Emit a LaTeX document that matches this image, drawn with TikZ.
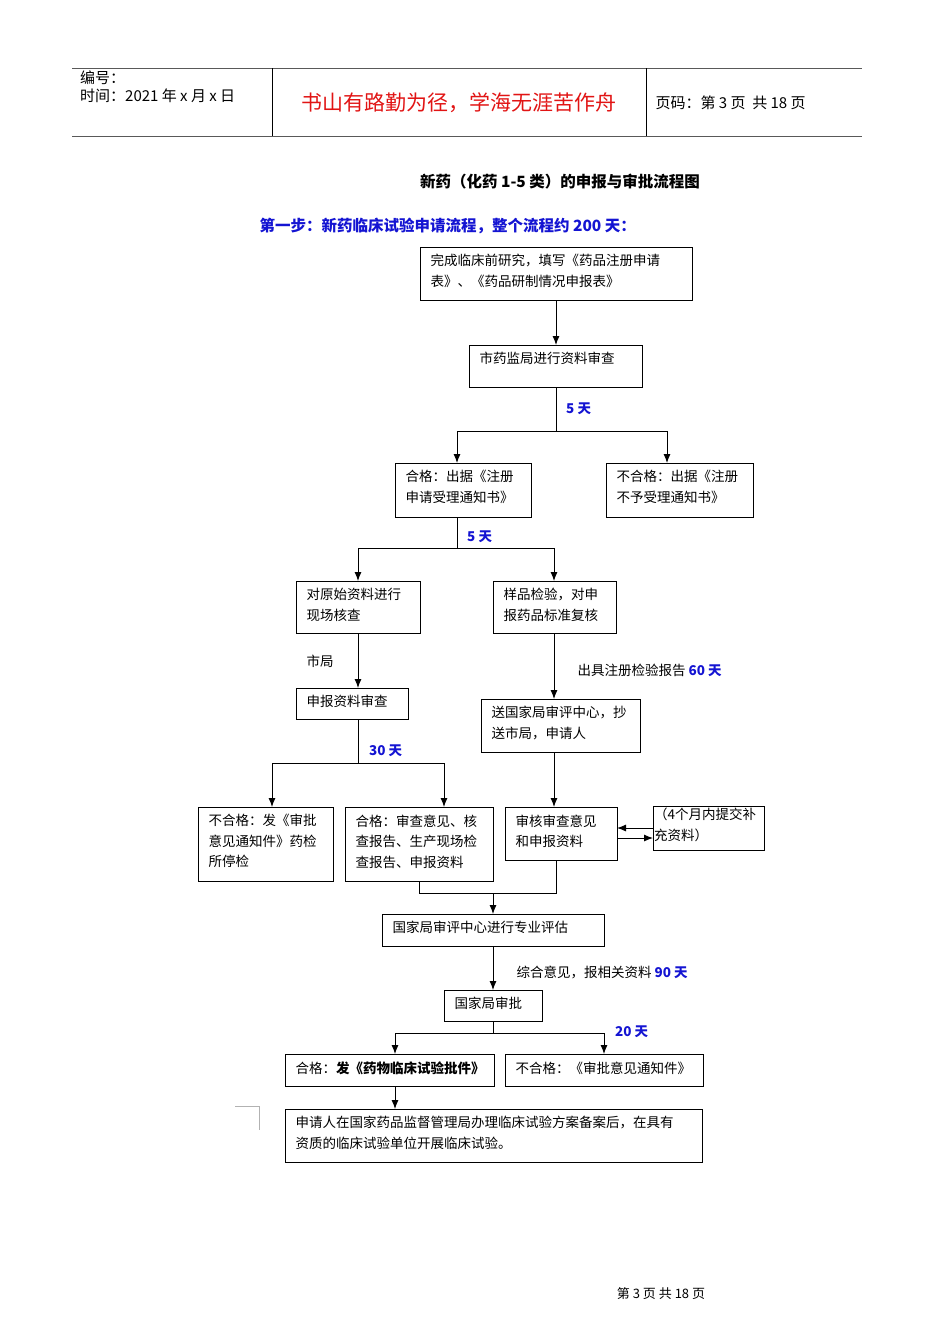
\documentclass[tikz,border=0pt]{standalone}
\usepackage{fontspec}
\usetikzlibrary{arrows.meta}
\setmainfont{Noto Sans CJK SC}
\definecolor{dblue}{RGB}{20,20,210}
\definecolor{hred}{RGB}{225,20,20}
\begin{document}
\begin{tikzpicture}[x=1pt,y=-1pt,
  bx/.style={draw,line width=0.9pt,inner sep=0pt},
  t/.style={font=\fontsize{13.5}{20.5}\selectfont,align=left,anchor=north west},
  lab/.style={font=\fontsize{13.5}{16}\selectfont\bfseries,text=dblue,anchor=west,inner sep=0pt},
  ar/.style={line width=0.9pt,-{Latex[length=9pt,width=7pt]}},
  ln/.style={line width=0.9pt}]
\useasboundingbox (0,0) rectangle (950,1344);
% header
\draw[line width=0.8pt,gray!70!black] (72,68)--(862,68) (72,136)--(862,136);
\draw[line width=0.6pt] (272,68)--(272,136) (646,68)--(646,136);
\node[t,font=\fontsize{15}{18}\selectfont,inner sep=0pt] at (80,71) {编号：\\时间：2021 年 x 月 x 日};
\node[font=\fontsize{21}{24}\selectfont,text=hred] (hd) at (459,103) {书山有路勤为径，学海无涯苦作舟};
\node[anchor=west,font=\fontsize{15}{18}\selectfont] (pg) at (652,103) {页码：第 3 页\ \ 共 18 页};
\node[font=\fontsize{15.5}{18}\selectfont\bfseries] (title) at (560,182) {新药（化药 1-5 类）的申报与审批流程图};
\node[anchor=west,font=\fontsize{15.5}{18}\selectfont\bfseries,text=dblue] (step) at (256,226) {第一步：新药临床试验申请流程，整个流程约 200 天：};
% boxes
\newcommand{\bxx}[6]{\draw[bx] (#2,#3) rectangle (#4,#5); \node[t] (#1) at (#2+7,#3+4) {#6};}
\bxx{b1}{420}{247}{692}{300}{完成临床前研究，填写《药品注册申请\\表》、《药品研制情况申报表》}
\bxx{b2}{469}{345}{642}{387}{市药监局进行资料审查}
\bxx{b3}{395}{463}{531}{517}{合格：出据《注册\\申请受理通知书》}
\bxx{b4}{606}{463}{753}{517}{不合格：出据《注册\\不予受理通知书》}
\bxx{b5}{296}{581}{420}{633}{对原始资料进行\\现场核查}
\bxx{b6}{493}{581}{616}{633}{样品检验，对申\\报药品标准复核}
\bxx{b7}{296}{688}{408}{719}{申报资料审查}
\bxx{b8}{481}{699}{640}{752}{送国家局审评中心，抄\\送市局，申请人}
\bxx{b9}{198}{807}{333}{881}{不合格：发《审批\\意见通知件》药检\\所停检}
\bxx{b10}{345}{807}{493}{881}{合格：审查意见、核\\查报告、生产现场检\\查报告、申报资料}
\bxx{b11}{505}{807}{617}{860}{审核审查意见\\和申报资料}
\draw[bx] (653,806) rectangle (764,850); \node[t,inner sep=0pt] (b12) at (654,808) {（4个月内提交补\\充资料）};
\bxx{b13}{382}{914}{604}{946}{国家局审评中心进行专业评估}
\bxx{b14}{444}{990}{542}{1021}{国家局审批}
\bxx{b15}{285}{1054}{494}{1086}{合格：{\bfseries 发《药物临床试验批件》}}
\bxx{b16}{505}{1054}{703}{1086}{不合格：《审批意见通知件》}
\bxx{b17}{285}{1109}{702}{1162}{申请人在国家药品监督管理局办理临床试验方案备案后，在具有\\资质的临床试验单位开展临床试验。}
% connectors
\draw[ar] (556,300)--(556,345);
\draw[ln] (556,387)--(556,431) (457,431)--(667,431);
\draw[ar] (457,431)--(457,463); \draw[ar] (667,431)--(667,463);
\node[lab] (l1) at (566,409) {5 天};
\draw[ln] (457,517)--(457,548) (358,548)--(554,548);
\draw[ar] (358,548)--(358,581); \draw[ar] (554,548)--(554,581);
\node[lab] (l2) at (467,537) {5 天};
\draw[ar] (358,633)--(358,688);
\node[anchor=west,font=\fontsize{13.5}{16}\selectfont] (sj) at (303,661) {市局};
\draw[ar] (554,633)--(554,699);
\node[anchor=west,font=\fontsize{13.5}{16}\selectfont] (cj) at (574,670) {出具注册检验报告 {\bfseries\color{dblue}60 天}};
\draw[ln] (358,719)--(358,763) (272,763)--(444,763);
\draw[ar] (272,763)--(272,807); \draw[ar] (444,763)--(444,807);
\node[lab] (l3) at (369,751) {30 天};
\draw[ar] (554,752)--(554,807);
\draw[ar] (653,828)--(617,828); \draw[ar] (617,838)--(653,838);
\draw[ln] (419,881)--(419,893)--(556,893)--(556,860);
\draw[ar] (493,893)--(493,914);
\draw[ar] (493,946)--(493,990);
\node[anchor=west,font=\fontsize{13.5}{16}\selectfont] (zh) at (513,972) {综合意见，报相关资料 {\bfseries\color{dblue}90 天}};
\draw[ln] (493,1021)--(493,1033) (395,1033)--(604,1033);
\draw[ar] (395,1033)--(395,1054); \draw[ar] (604,1033)--(604,1054);
\node[lab] (l4) at (615,1032) {20 天};
\draw[ar] (395,1086)--(395,1109);
\draw[gray!60,line width=0.8pt] (235,1106)--(259,1106)--(259,1130);
\node[font=\fontsize{13}{14}\selectfont] (ft) at (661,1294) {第 3 页 共 18 页};
\end{tikzpicture}
\end{document}
